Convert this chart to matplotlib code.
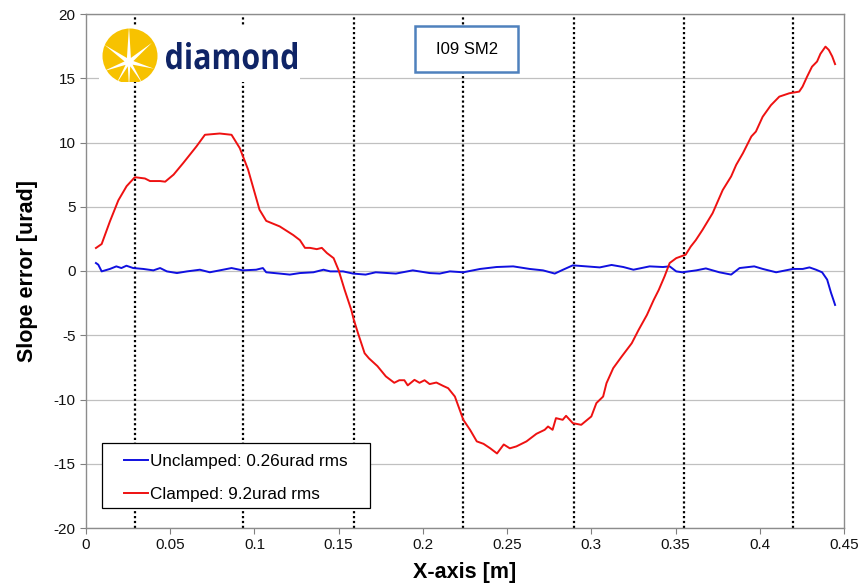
import numpy as np
import matplotlib
matplotlib.use("Agg")
import matplotlib.pyplot as plt
from matplotlib.patches import Rectangle, Circle, Polygon, PathPatch
from matplotlib.textpath import TextPath
from matplotlib.font_manager import FontProperties
from matplotlib.transforms import Affine2D
from matplotlib.ticker import FormatStrFormatter

plt.rcParams['font.family'] = ['Liberation Sans', 'DejaVu Sans']
plt.rcParams['axes.unicode_minus'] = False

# clamped mirror slope error
x_clamped = [0.0059, 0.0093, 0.0142, 0.0192, 0.0241, 0.029, 0.035, 0.038, 0.044, 0.047,
             0.052, 0.0577, 0.0656, 0.0706, 0.0794, 0.0864, 0.0913, 0.0962, 0.103, 0.107,
             0.115, 0.123, 0.127, 0.130, 0.133, 0.137, 0.140, 0.143, 0.147, 0.150,
             0.1535, 0.1575, 0.159, 0.1615, 0.1654, 0.168, 0.173, 0.178, 0.183, 0.186,
             0.189, 0.191, 0.195, 0.198, 0.201, 0.204, 0.208, 0.212, 0.215, 0.219,
             0.224, 0.228, 0.232, 0.236, 0.240, 0.244, 0.248, 0.2516, 0.2555, 0.2615,
             0.2674, 0.2723, 0.2743, 0.277, 0.279, 0.283, 0.285, 0.289, 0.294, 0.300,
             0.303, 0.307, 0.309, 0.313, 0.318, 0.324, 0.328, 0.333, 0.337, 0.340,
             0.3435, 0.3465, 0.3504, 0.356, 0.359, 0.362, 0.366, 0.372, 0.378, 0.383,
             0.386, 0.390, 0.395, 0.3977, 0.4017, 0.4066, 0.4116, 0.4175, 0.4234, 0.4254,
             0.428, 0.431, 0.434, 0.436, 0.439, 0.441, 0.443, 0.4447]
y_clamped = [1.79, 2.1, 3.86, 5.5, 6.6, 7.3, 7.2, 7.0, 7.0, 6.95,
             7.5, 8.4, 9.7, 10.6, 10.7, 10.6, 9.56, 7.9, 4.77, 3.9,
             3.47, 2.8, 2.4, 1.8, 1.8, 1.7, 1.8, 1.4, 1.0, 0.05,
             -1.45, -3.03, -3.8, -4.85, -6.4, -6.8, -7.4, -8.2, -8.7, -8.5,
             -8.5, -8.9, -8.47, -8.7, -8.5, -8.8, -8.68, -8.94, -9.12, -9.77,
             -11.58, -12.36, -13.26, -13.45, -13.8, -14.2, -13.5, -13.8, -13.65, -13.26,
             -12.67, -12.36, -12.1, -12.36, -11.45, -11.58, -11.27, -11.84, -11.97, -11.32,
             -10.28, -9.77, -8.73, -7.56, -6.66, -5.62, -4.6, -3.42, -2.26, -1.48,
             -0.41, 0.62, 1.0, 1.27, 1.9, 2.4, 3.2, 4.5, 6.3, 7.36,
             8.26, 9.17, 10.47, 10.85, 12.0, 12.9, 13.57, 13.83, 13.96, 14.35,
             15.1, 15.9, 16.3, 16.9, 17.46, 17.2, 16.7, 16.1]

# unclamped mirror slope error
x_unclamped = [0.0059, 0.0073, 0.0093, 0.0142, 0.018, 0.021, 0.024, 0.028, 0.034, 0.040,
               0.044, 0.048, 0.054, 0.060, 0.0676, 0.0735, 0.0794, 0.0864, 0.093, 0.101,
               0.105, 0.107, 0.115, 0.121, 0.127, 0.135, 0.141, 0.145, 0.1526, 0.1585,
               0.166, 0.172, 0.184, 0.194, 0.204, 0.210, 0.216, 0.224, 0.234, 0.2437,
               0.2536, 0.2634, 0.2713, 0.2783, 0.2832, 0.289, 0.297, 0.305, 0.312, 0.319,
               0.325, 0.3346, 0.3425, 0.3465, 0.3504, 0.354, 0.3623, 0.368, 0.376, 0.383,
               0.388, 0.3967, 0.4018, 0.4097, 0.4196, 0.4255, 0.4295, 0.4334, 0.437, 0.440,
               0.4423, 0.4436, 0.4447]
y_unclamped = [0.62, 0.49, -0.03, 0.16, 0.36, 0.23, 0.41, 0.23, 0.16, 0.05,
               0.23, -0.03, -0.16, -0.03, 0.1, -0.1, 0.05, 0.23, 0.05, 0.1,
               0.23, -0.1, -0.2, -0.28, -0.16, -0.1, 0.1, -0.03, -0.03, -0.2,
               -0.28, -0.1, -0.2, 0.05, -0.16, -0.2, -0.03, -0.1, 0.16, 0.31,
               0.36, 0.16, 0.05, -0.2, 0.1, 0.44, 0.36, 0.28, 0.47, 0.31,
               0.1, 0.36, 0.31, 0.36, -0.03, -0.1, 0.05, 0.2, -0.1, -0.28,
               0.23, 0.36, 0.16, -0.1, 0.16, 0.16, 0.28, 0.1, -0.1, -0.67,
               -1.7, -2.2, -2.64]

# clamp / support positions (dotted lines)
clamp_x = [0.029, 0.0935, 0.159, 0.224, 0.2895, 0.355, 0.420]

x_ticks = [0, 0.05, 0.1, 0.15, 0.2, 0.25, 0.3, 0.35, 0.4, 0.45]
y_ticks = [-20, -15, -10, -5, 0, 5, 10, 15, 20]

W, H = 861, 588
fig = plt.figure(figsize=(W / 100, H / 100), dpi=100)
ax = fig.add_axes([86 / W, 1 - 528 / H, 758 / W, 514 / H])

for y in y_ticks:
    ax.axhline(y, color='#c0c0c0', lw=0.9, zorder=0)
for x in clamp_x:
    ax.axvline(x, color='black', lw=1.6, ls=(0, (1, 1.2)), zorder=1)

ax.plot(x_unclamped, y_unclamped, color='#1010e0', lw=1.4, zorder=3,
        label='Unclamped: 0.26urad rms')
ax.plot(x_clamped, y_clamped, color='#ee1111', lw=1.4, zorder=3,
        label='Clamped: 9.2urad rms')

ax.set_xlim(0, 0.45)
ax.set_ylim(-20, 20)
ax.set_xticks(x_ticks)
ax.set_yticks(y_ticks)
ax.xaxis.set_major_formatter(FormatStrFormatter('%g'))
ax.tick_params(direction='out', length=4, color='#808080', labelsize=11, labelcolor='#111111')
for s in ax.spines.values():
    s.set_color('#8c8c8c')
    s.set_linewidth(1.0)

ax.set_xlabel('X-axis [m]', fontsize=15.5, fontweight='bold', labelpad=7)
ax.set_ylabel('Slope error [urad]', fontsize=15.5, fontweight='bold', labelpad=11)

# legend: frame drawn separately so padding can match
ax.add_patch(Rectangle((0.0211, 0.039), 0.354, 0.1265, transform=ax.transAxes,
                       facecolor='white', edgecolor='black', lw=0.9, zorder=5))
leg = ax.legend(loc='upper left', bbox_to_anchor=(0.0501, 0.1444), frameon=False,
                fontsize=12.3, handlelength=1.4, handletextpad=0.12, labelspacing=1.05,
                borderpad=0, borderaxespad=0)
leg.set_zorder(6)

# "I09 SM2" box
fig.patches.append(Rectangle((415 / W, 1 - 72 / H), 103 / W, 46 / H, transform=fig.transFigure,
                             facecolor='white', edgecolor='#4f81bd', lw=1.8, zorder=4))
fig.text(467 / W, 1 - 49 / H, 'I09 SM2', ha='center', va='center', fontsize=12, zorder=5)

# diamond logo, in figure-pixel coordinates (y up)
lx0, lx1, ly0, ly1 = 99, 300, H - 82, H - 27
lax = fig.add_axes([lx0 / W, ly0 / H, (lx1 - lx0) / W, (ly1 - ly0) / H])
lax.set_xlim(lx0, lx1)
lax.set_ylim(ly0, ly1)
lax.set_facecolor('white')
lax.axis('off')
lax.add_patch(Rectangle((lx0, ly0), lx1 - lx0, ly1 - ly0, facecolor='white', edgecolor='none'))
cx, cy, r = 130, H - 56, 27.5
lax.add_patch(Circle((cx, cy), r, facecolor='#f7c200', edgecolor='none'))
sx, sy = 129, H - 62
rays = [(90, 36), (145, 30), (200, 28), (240, 26), (270, 26), (302, 26), (345, 26), (40, 30)]
pts = []
for i, (ang, ln) in enumerate(rays):
    a = np.radians(ang)
    pts.append((sx + ln * np.cos(a), sy + ln * np.sin(a)))
    nxt = rays[(i + 1) % len(rays)][0]
    if nxt < ang:
        nxt += 360
    m = np.radians((ang + nxt) / 2)
    pts.append((sx + 4.5 * np.cos(m), sy + 4.5 * np.sin(m)))
lax.add_patch(Polygon(pts, closed=True, facecolor='white', edgecolor='none'))
tp = TextPath((0, 0), 'diamond', size=1, prop=FontProperties(family='Open Sans', weight='bold'))
ext = tp.get_extents()
tx0, tx1, tbase, ttop = 166, 297, H - 69, H - 42
tr = Affine2D().translate(-ext.x0, 0).scale((tx1 - tx0) / ext.width, (ttop - tbase) / ext.y1) \
    .translate(tx0, tbase)
lax.add_patch(PathPatch(tr.transform_path(tp), facecolor='#0f2466', edgecolor='none'))

fig.savefig('out.png', dpi=100)
